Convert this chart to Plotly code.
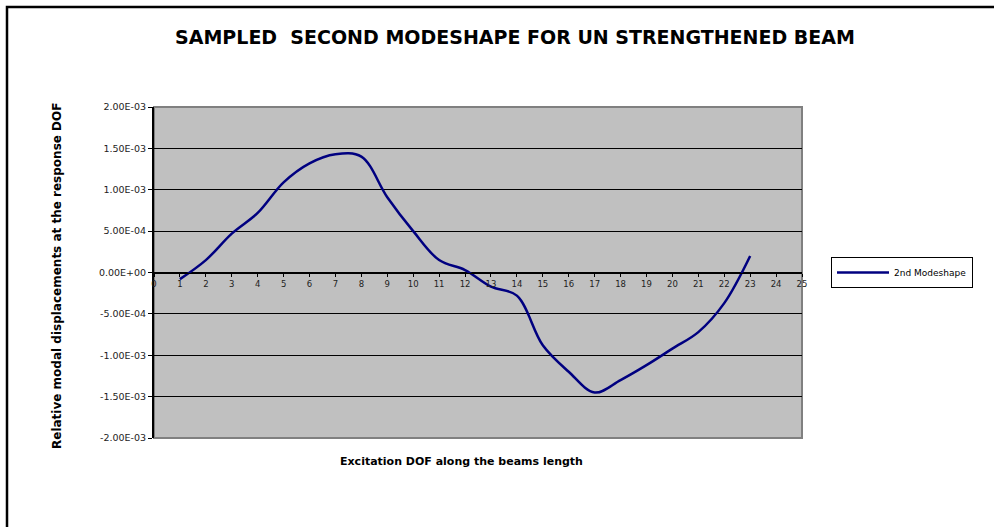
import plotly.graph_objects as go

dof = list(range(1, 24))
modeshape = [-8.0e-5, 1.5e-4, 4.7e-4, 7.2e-4, 1.09e-3, 1.32e-3, 1.43e-3, 1.40e-3,
             9.1e-4, 5.0e-4, 1.5e-4, 3.0e-5, -1.7e-4, -2.8e-4, -8.8e-4, -1.2e-3,
             -1.45e-3, -1.30e-3, -1.12e-3, -9.2e-4, -7.2e-4, -3.7e-4, 2.0e-4]
x_ticks = list(range(0, 26))
y_ticks = [2e-3, 1.5e-3, 1e-3, 5e-4, 0, -5e-4, -1e-3, -1.5e-3, -2e-3]
y_labels = ["2.00E-03", "1.50E-03", "1.00E-03", "5.00E-04", "0.00E+00",
            "-5.00E-04", "-1.00E-03", "-1.50E-03", "-2.00E-03"]

font = "DejaVu Sans, Verdana, sans-serif"

fig = go.Figure()
fig.add_trace(go.Scatter(
    x=dof, y=modeshape, mode="lines", name="2nd Modeshape",
    line=dict(color="#000080", width=2.5, shape="spline", smoothing=1.0),
))

L, R, T, B = 154, 192, 107, 89
PW, PH = 994 - L - R, 527 - T - B

fig.update_layout(
    width=994, height=527,
    paper_bgcolor="white", plot_bgcolor="#C0C0C0",
    margin=dict(l=L, r=R, t=T, b=B, autoexpand=False),
    font=dict(family=font, color="black", size=8),
    title=dict(text="<b>SAMPLED  SECOND MODESHAPE FOR UN STRENGTHENED BEAM</b>",
               x=515 / 994, xanchor="center", y=1 - 37 / 527, yanchor="middle",
               font=dict(size=19, family=font, color="black")),
    showlegend=True,
    legend=dict(x=(831 - L) / PW, xanchor="left", y=(T + PH - 257) / PH, yanchor="top",
                bgcolor="white", bordercolor="black", borderwidth=1,
                font=dict(size=9, family=font), itemwidth=52),
    xaxis=dict(range=[0, 25], tickvals=x_ticks, ticks="outside", ticklen=3,
               tickcolor="black", showgrid=False, zeroline=False,
               showline=True, linecolor="black", linewidth=1,
               anchor="free", position=0.5, tickfont=dict(size=8.5, color="#222")),
    yaxis=dict(range=[-2e-3, 2e-3], tickvals=y_ticks, ticktext=y_labels,
               ticks="outside", ticklen=4, tickcolor="black",
               showgrid=True, gridcolor="black", gridwidth=1,
               zeroline=False, showline=True, linecolor="black", linewidth=2,
               tickfont=dict(size=9.5, color="#222")),
    shapes=[
        dict(type="rect", xref="paper", yref="paper", x0=0, x1=1, y0=0, y1=1,
             line=dict(color="#808080", width=2), layer="below"),
        dict(type="rect", xref="paper", yref="paper",
             x0=-(L - 7) / PW, x1=2.0, y0=(T + PH - 7) / PH, y1=-1.0,
             line=dict(color="black", width=2.5)),
    ],
    annotations=[
        dict(text="<b>Excitation DOF along the beams length</b>", xref="paper", yref="paper",
             x=(461 - L) / PW, y=-(461 - T - PH) / PH, xanchor="center", yanchor="middle",
             showarrow=False, font=dict(size=11, family=font, color="black")),
        dict(text="<b>Relative modal displacements at the response DOF</b>",
             xref="paper", yref="paper", x=-(L - 57) / PW, y=(T + PH - 276) / PH,
             xanchor="center", yanchor="middle", textangle=-90,
             showarrow=False, font=dict(size=12, family=font, color="black")),
    ],
)

fig.write_html("out.html", config={"displayModeBar": False},
               post_script="document.body.style.margin='0';")
